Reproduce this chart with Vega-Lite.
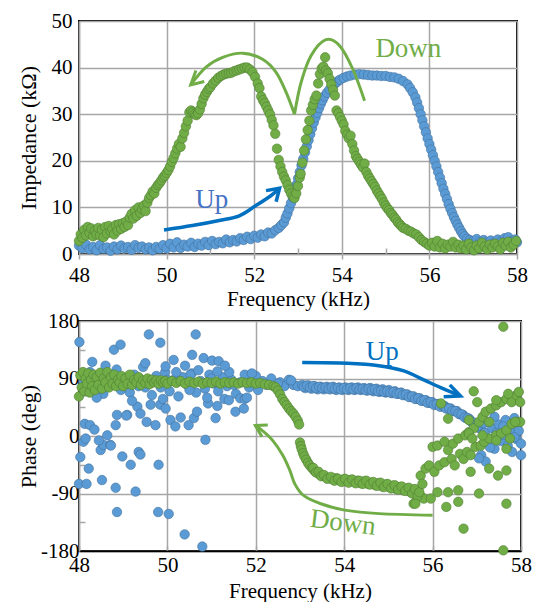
{
"$schema": "https://vega.github.io/schema/vega-lite/v6.json",
"background": "white",
"padding": {"left": 15, "top": 9, "right": 5, "bottom": 5},
"spacing": 67,
"bounds": "flush",
"config": {
  "font": "Liberation Serif",
  "view": {"stroke": "black", "strokeWidth": 2},
  "axis": {"labelFont": "Liberation Serif", "labelFontSize": 21, "labelColor": "black", "titleFont": "Liberation Serif", "titleFontSize": 22, "titleFontWeight": "normal", "titleColor": "black", "gridColor": "#A6A6A6", "gridWidth": 1.5, "tickColor": "#A6A6A6", "tickWidth": 1.5, "domainColor": "#A6A6A6", "domainWidth": 1.5, "labelFlush": false, "labelOverlap": false}
},
"datasets": {
"zu": [{"f":48.00,"v":1.8},{"f":48.08,"v":1.2},{"f":48.16,"v":2.0},{"f":48.24,"v":1.0},{"f":48.32,"v":1.5},{"f":48.40,"v":0.8},{"f":48.48,"v":1.9},{"f":48.56,"v":1.1},{"f":48.64,"v":1.4},{"f":48.72,"v":0.7},{"f":48.80,"v":1.6},{"f":48.88,"v":1.0},{"f":48.96,"v":1.8},{"f":49.04,"v":1.2},{"f":49.12,"v":1.5},{"f":49.20,"v":0.9},{"f":49.28,"v":1.9},{"f":49.36,"v":1.3},{"f":49.44,"v":1.6},{"f":49.52,"v":1.0},{"f":49.60,"v":1.4},{"f":49.68,"v":0.8},{"f":49.76,"v":1.5},{"f":49.84,"v":1.1},{"f":49.92,"v":1.9},{"f":50.00,"v":1.2},{"f":50.08,"v":2.2},{"f":50.16,"v":1.4},{"f":50.24,"v":2.5},{"f":50.32,"v":1.3},{"f":50.40,"v":2.0},{"f":50.48,"v":1.6},{"f":50.56,"v":2.4},{"f":50.64,"v":1.5},{"f":50.72,"v":2.2},{"f":50.80,"v":1.8},{"f":50.88,"v":2.6},{"f":50.96,"v":1.9},{"f":51.04,"v":2.8},{"f":51.12,"v":2.1},{"f":51.20,"v":2.6},{"f":51.28,"v":2.3},{"f":51.36,"v":3.1},{"f":51.44,"v":2.5},{"f":51.52,"v":3.0},{"f":51.60,"v":2.7},{"f":51.68,"v":3.4},{"f":51.76,"v":3.0},{"f":51.84,"v":3.7},{"f":51.92,"v":3.2},{"f":52.00,"v":3.9},{"f":52.08,"v":3.5},{"f":52.16,"v":4.2},{"f":52.24,"v":3.8},{"f":52.32,"v":4.6},{"f":52.40,"v":4.4},{"f":52.48,"v":5.1},{"f":52.56,"v":5.6},{"f":52.62,"v":6.2},{"f":52.68,"v":6.8},{"f":52.72,"v":7.8},{"f":52.76,"v":8.7},{"f":52.80,"v":9.8},{"f":52.84,"v":10.9},{"f":52.88,"v":12.2},{"f":52.92,"v":13.5},{"f":52.96,"v":14.8},{"f":53.00,"v":16.2},{"f":53.04,"v":17.6},{"f":53.08,"v":19.0},{"f":53.12,"v":20.4},{"f":53.16,"v":21.8},{"f":53.20,"v":23.1},{"f":53.24,"v":24.4},{"f":53.28,"v":25.7},{"f":53.32,"v":27.0},{"f":53.36,"v":28.2},{"f":53.40,"v":29.3},{"f":53.44,"v":30.3},{"f":53.48,"v":31.3},{"f":53.52,"v":32.2},{"f":53.56,"v":33.0},{"f":53.60,"v":33.8},{"f":53.66,"v":34.6},{"f":53.72,"v":35.3},{"f":53.78,"v":36.0},{"f":53.84,"v":36.5},{"f":53.90,"v":37.0},{"f":53.96,"v":37.4},{"f":54.04,"v":37.8},{"f":54.12,"v":38.1},{"f":54.20,"v":38.3},{"f":54.30,"v":38.5},{"f":54.40,"v":38.6},{"f":54.50,"v":38.5},{"f":54.60,"v":38.4},{"f":54.70,"v":38.3},{"f":54.80,"v":38.3},{"f":54.90,"v":38.2},{"f":55.00,"v":38.2},{"f":55.10,"v":38.0},{"f":55.20,"v":37.9},{"f":55.30,"v":37.6},{"f":55.40,"v":37.1},{"f":55.50,"v":36.4},{"f":55.56,"v":35.6},{"f":55.62,"v":34.7},{"f":55.68,"v":33.6},{"f":55.72,"v":32.5},{"f":55.76,"v":31.3},{"f":55.80,"v":30.0},{"f":55.84,"v":28.7},{"f":55.88,"v":27.4},{"f":55.92,"v":26.1},{"f":55.96,"v":24.8},{"f":56.00,"v":23.6},{"f":56.04,"v":22.4},{"f":56.08,"v":21.2},{"f":56.12,"v":20.0},{"f":56.16,"v":18.8},{"f":56.20,"v":17.6},{"f":56.24,"v":16.4},{"f":56.28,"v":15.2},{"f":56.32,"v":14.0},{"f":56.36,"v":12.9},{"f":56.40,"v":11.8},{"f":56.44,"v":10.7},{"f":56.48,"v":9.7},{"f":56.52,"v":8.8},{"f":56.56,"v":7.9},{"f":56.60,"v":7.1},{"f":56.64,"v":6.3},{"f":56.68,"v":5.6},{"f":56.72,"v":4.9},{"f":56.76,"v":4.3},{"f":56.80,"v":3.8},{"f":56.86,"v":3.3},{"f":56.92,"v":3.0},{"f":57.00,"v":2.8},{"f":57.08,"v":3.2},{"f":57.16,"v":2.6},{"f":57.24,"v":3.0},{"f":57.32,"v":2.5},{"f":57.40,"v":2.9},{"f":57.48,"v":2.4},{"f":57.56,"v":3.1},{"f":57.64,"v":2.7},{"f":57.72,"v":3.4},{"f":57.80,"v":3.6},{"f":57.88,"v":2.8},{"f":57.96,"v":3.1},{"f":58.00,"v":2.5}],
"zd": [{"f":48.00,"v":2.8},{"f":48.04,"v":4.2},{"f":48.08,"v":3.5},{"f":48.12,"v":5.2},{"f":48.16,"v":4.0},{"f":48.20,"v":5.8},{"f":48.24,"v":4.5},{"f":48.28,"v":5.5},{"f":48.32,"v":3.8},{"f":48.36,"v":5.0},{"f":48.40,"v":4.2},{"f":48.44,"v":5.6},{"f":48.48,"v":4.0},{"f":48.52,"v":5.2},{"f":48.56,"v":3.6},{"f":48.60,"v":5.8},{"f":48.64,"v":4.4},{"f":48.68,"v":6.0},{"f":48.72,"v":4.8},{"f":48.76,"v":5.4},{"f":48.80,"v":4.2},{"f":48.84,"v":6.2},{"f":48.88,"v":5.0},{"f":48.92,"v":6.4},{"f":48.96,"v":5.4},{"f":49.00,"v":6.6},{"f":49.04,"v":5.8},{"f":49.08,"v":7.0},{"f":49.12,"v":6.2},{"f":49.16,"v":7.8},{"f":49.20,"v":8.6},{"f":49.24,"v":7.6},{"f":49.28,"v":9.4},{"f":49.32,"v":8.2},{"f":49.36,"v":10.0},{"f":49.40,"v":8.8},{"f":49.44,"v":9.6},{"f":49.48,"v":10.4},{"f":49.52,"v":9.2},{"f":49.56,"v":11.0},{"f":49.60,"v":12.0},{"f":49.64,"v":12.6},{"f":49.68,"v":13.4},{"f":49.72,"v":13.0},{"f":49.76,"v":14.2},{"f":49.80,"v":14.8},{"f":49.84,"v":15.2},{"f":49.88,"v":15.8},{"f":49.92,"v":16.4},{"f":49.96,"v":16.8},{"f":50.00,"v":17.4},{"f":50.04,"v":18.0},{"f":50.08,"v":18.8},{"f":50.12,"v":19.8},{"f":50.16,"v":20.6},{"f":50.20,"v":21.6},{"f":50.24,"v":22.6},{"f":50.28,"v":23.6},{"f":50.32,"v":23.0},{"f":50.36,"v":24.8},{"f":50.40,"v":26.0},{"f":50.44,"v":27.4},{"f":50.48,"v":28.6},{"f":50.52,"v":30.4},{"f":50.56,"v":30.8},{"f":50.60,"v":30.4},{"f":50.64,"v":30.0},{"f":50.68,"v":29.8},{"f":50.72,"v":30.2},{"f":50.76,"v":31.0},{"f":50.80,"v":32.2},{"f":50.84,"v":33.4},{"f":50.88,"v":34.2},{"f":50.92,"v":34.8},{"f":50.96,"v":35.4},{"f":51.00,"v":35.8},{"f":51.06,"v":36.6},{"f":51.12,"v":37.2},{"f":51.18,"v":37.8},{"f":51.24,"v":38.2},{"f":51.30,"v":38.5},{"f":51.36,"v":38.7},{"f":51.42,"v":38.8},{"f":51.48,"v":38.9},{"f":51.54,"v":39.2},{"f":51.60,"v":39.4},{"f":51.66,"v":39.6},{"f":51.72,"v":39.8},{"f":51.78,"v":40.0},{"f":51.84,"v":40.0},{"f":51.90,"v":39.6},{"f":51.96,"v":39.0},{"f":52.02,"v":38.0},{"f":52.08,"v":36.6},{"f":52.12,"v":35.6},{"f":52.16,"v":33.8},{"f":52.20,"v":33.0},{"f":52.24,"v":32.4},{"f":52.28,"v":31.6},{"f":52.32,"v":30.8},{"f":52.36,"v":30.0},{"f":52.40,"v":28.8},{"f":52.44,"v":27.6},{"f":52.48,"v":25.8},{"f":52.52,"v":22.6},{"f":52.56,"v":20.2},{"f":52.60,"v":18.8},{"f":52.64,"v":17.6},{"f":52.68,"v":16.6},{"f":52.72,"v":15.8},{"f":52.76,"v":14.8},{"f":52.80,"v":13.8},{"f":52.84,"v":13.0},{"f":52.88,"v":12.4},{"f":52.92,"v":12.0},{"f":52.96,"v":13.0},{"f":53.00,"v":14.6},{"f":53.04,"v":16.4},{"f":53.06,"v":17.2},{"f":53.10,"v":19.6},{"f":53.14,"v":22.2},{"f":53.18,"v":24.6},{"f":53.22,"v":26.6},{"f":53.26,"v":28.6},{"f":53.30,"v":30.8},{"f":53.34,"v":32.0},{"f":53.38,"v":33.2},{"f":53.42,"v":34.0},{"f":53.46,"v":36.6},{"f":53.50,"v":38.6},{"f":53.54,"v":39.8},{"f":53.58,"v":40.2},{"f":53.62,"v":42.2},{"f":53.64,"v":39.4},{"f":53.68,"v":38.8},{"f":53.72,"v":37.6},{"f":53.76,"v":36.4},{"f":53.80,"v":35.2},{"f":53.84,"v":34.0},{"f":53.88,"v":30.8},{"f":53.92,"v":30.2},{"f":53.96,"v":29.4},{"f":54.00,"v":28.6},{"f":54.04,"v":27.8},{"f":54.08,"v":26.4},{"f":54.12,"v":25.6},{"f":54.16,"v":24.8},{"f":54.20,"v":25.4},{"f":54.24,"v":23.6},{"f":54.28,"v":22.2},{"f":54.32,"v":21.0},{"f":54.36,"v":20.4},{"f":54.40,"v":19.8},{"f":54.44,"v":19.2},{"f":54.48,"v":18.6},{"f":54.52,"v":19.4},{"f":54.56,"v":17.6},{"f":54.60,"v":16.8},{"f":54.64,"v":16.2},{"f":54.68,"v":15.6},{"f":54.72,"v":15.0},{"f":54.76,"v":14.4},{"f":54.80,"v":13.6},{"f":54.84,"v":13.0},{"f":54.88,"v":12.4},{"f":54.92,"v":11.8},{"f":54.96,"v":11.0},{"f":55.00,"v":10.4},{"f":55.04,"v":9.8},{"f":55.08,"v":9.4},{"f":55.12,"v":8.8},{"f":55.16,"v":8.4},{"f":55.20,"v":7.8},{"f":55.24,"v":7.4},{"f":55.28,"v":6.8},{"f":55.32,"v":6.4},{"f":55.36,"v":6.0},{"f":55.40,"v":5.6},{"f":55.46,"v":5.4},{"f":55.52,"v":5.0},{"f":55.58,"v":4.8},{"f":55.64,"v":4.4},{"f":55.70,"v":4.2},{"f":55.76,"v":3.6},{"f":55.82,"v":3.0},{"f":55.88,"v":2.6},{"f":55.94,"v":2.2},{"f":56.00,"v":1.8},{"f":56.06,"v":2.4},{"f":56.12,"v":1.6},{"f":56.18,"v":2.8},{"f":56.24,"v":1.4},{"f":56.30,"v":2.2},{"f":56.36,"v":1.2},{"f":56.42,"v":2.0},{"f":56.48,"v":1.6},{"f":56.54,"v":2.6},{"f":56.60,"v":1.4},{"f":56.66,"v":2.0},{"f":56.72,"v":1.2},{"f":56.78,"v":1.8},{"f":56.84,"v":1.0},{"f":56.90,"v":2.2},{"f":56.96,"v":1.4},{"f":57.02,"v":0.8},{"f":57.08,"v":1.8},{"f":57.14,"v":1.2},{"f":57.20,"v":2.4},{"f":57.26,"v":1.6},{"f":57.32,"v":1.0},{"f":57.38,"v":2.0},{"f":57.44,"v":1.4},{"f":57.50,"v":2.2},{"f":57.56,"v":1.6},{"f":57.62,"v":1.0},{"f":57.68,"v":2.4},{"f":57.74,"v":1.8},{"f":57.80,"v":2.6},{"f":57.86,"v":1.4},{"f":57.92,"v":2.0},{"f":57.98,"v":2.8}],
"pu": [{"f":48.05,"v":95},{"f":48.15,"v":70},{"f":48.25,"v":100},{"f":48.35,"v":75},{"f":48.45,"v":88},{"f":48.55,"v":66},{"f":48.65,"v":98},{"f":48.75,"v":80},{"f":48.85,"v":104},{"f":48.95,"v":72},{"f":49.05,"v":90},{"f":49.15,"v":68},{"f":49.25,"v":96},{"f":49.35,"v":78},{"f":49.45,"v":108},{"f":49.55,"v":84},{"f":49.65,"v":64},{"f":49.75,"v":94},{"f":49.85,"v":76},{"f":49.95,"v":100},{"f":50.05,"v":70},{"f":50.15,"v":88},{"f":50.25,"v":62},{"f":50.35,"v":92},{"f":50.45,"v":80},{"f":50.55,"v":98},{"f":50.65,"v":68},{"f":50.75,"v":86},{"f":50.85,"v":74},{"f":50.95,"v":96},{"f":51.05,"v":82},{"f":51.15,"v":70},{"f":51.25,"v":92},{"f":51.35,"v":78},{"f":51.45,"v":88},{"f":51.55,"v":66},{"f":51.65,"v":84},{"f":51.75,"v":96},{"f":51.85,"v":76},{"f":51.95,"v":90},{"f":52.05,"v":72},{"f":52.15,"v":86},{"f":52.25,"v":80},{"f":52.35,"v":90},{"f":52.45,"v":76},{"f":52.55,"v":84},{"f":52.65,"v":78},{"f":52.75,"v":88},{"f":52.85,"v":80},{"f":52.95,"v":78},{"f":48.10,"v":85},{"f":48.50,"v":90},{"f":49.00,"v":82},{"f":49.50,"v":76},{"f":50.00,"v":88},{"f":50.50,"v":72},{"f":51.00,"v":90},{"f":51.50,"v":80},{"f":52.00,"v":94},{"f":52.50,"v":82},{"f":53.05,"v":80},{"f":53.12,"v":75},{"f":53.19,"v":79},{"f":53.26,"v":74},{"f":53.33,"v":78},{"f":53.40,"v":73},{"f":53.47,"v":77},{"f":53.54,"v":73},{"f":53.61,"v":77},{"f":53.68,"v":73},{"f":53.75,"v":77},{"f":53.82,"v":72},{"f":53.89,"v":76},{"f":53.96,"v":72},{"f":54.03,"v":76},{"f":54.10,"v":72},{"f":54.17,"v":76},{"f":54.24,"v":72},{"f":54.31,"v":76},{"f":54.38,"v":72},{"f":54.45,"v":75},{"f":54.52,"v":71},{"f":54.59,"v":75},{"f":54.66,"v":70},{"f":54.73,"v":74},{"f":54.80,"v":69},{"f":54.87,"v":73},{"f":54.94,"v":68},{"f":55.01,"v":72},{"f":55.08,"v":67},{"f":55.15,"v":70},{"f":55.22,"v":66},{"f":55.29,"v":68},{"f":55.36,"v":64},{"f":55.43,"v":65},{"f":55.50,"v":61},{"f":55.57,"v":62},{"f":55.64,"v":58},{"f":55.71,"v":59},{"f":55.78,"v":55},{"f":55.85,"v":56},{"f":55.92,"v":52},{"f":55.99,"v":53},{"f":56.06,"v":49},{"f":56.13,"v":50},{"f":56.20,"v":46},{"f":56.27,"v":47},{"f":56.34,"v":43},{"f":56.41,"v":43},{"f":56.48,"v":39},{"f":56.55,"v":39},{"f":56.62,"v":34},{"f":56.69,"v":33},{"f":56.76,"v":28},{"f":56.83,"v":27},{"f":56.90,"v":21},{"f":56.97,"v":19},{"f":57.04,"v":13},{"f":57.11,"v":10},{"f":57.18,"v":5},{"f":53.085,"v":77},{"f":53.155,"v":79},{"f":53.225,"v":76},{"f":53.295,"v":78},{"f":53.365,"v":75},{"f":53.435,"v":77},{"f":53.505,"v":75},{"f":53.575,"v":76},{"f":53.645,"v":74},{"f":53.715,"v":76},{"f":53.785,"v":74},{"f":53.855,"v":75},{"f":53.925,"v":73},{"f":53.995,"v":75},{"f":54.065,"v":73},{"f":54.135,"v":75},{"f":54.205,"v":73},{"f":54.275,"v":75},{"f":54.345,"v":73},{"f":54.415,"v":74},{"f":54.485,"v":72},{"f":54.555,"v":74},{"f":54.625,"v":72},{"f":54.695,"v":73},{"f":54.765,"v":70},{"f":54.835,"v":71},{"f":54.905,"v":69},{"f":54.975,"v":70},{"f":55.045,"v":68},{"f":55.115,"v":69},{"f":55.185,"v":66},{"f":55.255,"v":67},{"f":55.325,"v":64},{"f":55.395,"v":65},{"f":55.465,"v":61},{"f":55.535,"v":62},{"f":55.605,"v":58},{"f":55.675,"v":59},{"f":55.745,"v":55},{"f":55.815,"v":56},{"f":55.885,"v":52},{"f":55.955,"v":53},{"f":56.025,"v":49},{"f":56.095,"v":50},{"f":56.165,"v":46},{"f":56.235,"v":47},{"f":56.305,"v":43},{"f":56.375,"v":43},{"f":56.445,"v":39},{"f":56.515,"v":39},{"f":56.585,"v":35},{"f":56.655,"v":34},{"f":56.725,"v":29},{"f":56.795,"v":28},{"f":56.865,"v":23},{"f":56.935,"v":21},{"f":57.005,"v":15},{"f":57.25,"v":22},{"f":57.30,"v":-5},{"f":57.35,"v":12},{"f":57.40,"v":-20},{"f":57.45,"v":5},{"f":57.50,"v":18},{"f":57.55,"v":-8},{"f":57.60,"v":2},{"f":57.65,"v":25},{"f":57.70,"v":-15},{"f":57.75,"v":10},{"f":57.80,"v":-25},{"f":57.85,"v":28},{"f":57.90,"v":-5},{"f":57.95,"v":8},{"f":58.00,"v":-12},{"f":58.00,"v":-30},{"f":57.10,"v":-30},{"f":57.20,"v":-40},{"f":57.30,"v":-18},{"f":57.05,"v":-35},{"f":57.40,"v":30},{"f":57.60,"v":15},{"f":57.85,"v":-2},{"f":57.15,"v":20},{"f":48.01,"v":147},{"f":48.03,"v":-33},{"f":48.00,"v":-75},{"f":48.17,"v":-75},{"f":48.22,"v":-51},{"f":48.10,"v":-9},{"f":48.15,"v":-4},{"f":48.13,"v":19},{"f":48.30,"v":116},{"f":48.25,"v":17},{"f":48.35,"v":10},{"f":48.49,"v":-22},{"f":48.55,"v":-14},{"f":48.52,"v":-69},{"f":48.64,"v":1},{"f":48.71,"v":-14},{"f":48.79,"v":135},{"f":48.83,"v":-81},{"f":48.86,"v":-119},{"f":48.94,"v":143},{"f":48.98,"v":-32},{"f":48.86,"v":33},{"f":48.83,"v":17},{"f":49.09,"v":33},{"f":49.17,"v":-45},{"f":49.28,"v":-87},{"f":49.32,"v":46},{"f":49.35,"v":-25},{"f":49.39,"v":-29},{"f":49.39,"v":35},{"f":49.50,"v":114},{"f":49.53,"v":22},{"f":49.58,"v":159},{"f":49.62,"v":49},{"f":49.73,"v":17},{"f":49.79,"v":-119},{"f":49.80,"v":-45},{"f":49.84,"v":146},{"f":49.84,"v":49},{"f":49.96,"v":43},{"f":49.96,"v":109},{"f":50.03,"v":-122},{"f":50.07,"v":25},{"f":50.14,"v":119},{"f":50.18,"v":15},{"f":50.20,"v":100},{"f":50.30,"v":29},{"f":50.39,"v":-154},{"f":50.48,"v":17},{"f":50.52,"v":96},{"f":50.56,"v":127},{"f":50.60,"v":28},{"f":50.64,"v":159},{"f":50.67,"v":38},{"f":50.70,"v":103},{"f":50.79,"v":-173},{"f":50.82,"v":122},{"f":50.86,"v":-6},{"f":50.92,"v":51},{"f":51.01,"v":118},{"f":51.09,"v":28},{"f":51.13,"v":47},{"f":51.13,"v":101},{"f":51.16,"v":117},{"f":51.29,"v":58},{"f":51.39,"v":56},{"f":51.40,"v":100},{"f":51.54,"v":38},{"f":51.65,"v":59},{"f":51.73,"v":43},{"f":51.75,"v":58},{"f":51.91,"v":98},{"f":52.80,"v":87},{"f":48.45,"v":-7},{"f":48.72,"v":-15},{"f":49.07,"v":32},{"f":48.40,"v":60},{"f":48.60,"v":110},{"f":49.20,"v":55},{"f":49.90,"v":58},{"f":50.40,"v":110},{"f":50.90,"v":60},{"f":51.30,"v":110},{"f":51.80,"v":60}],
"pd": [{"f":48.00,"v":62},{"f":48.03,"v":95},{"f":48.06,"v":76},{"f":48.09,"v":100},{"f":48.12,"v":70},{"f":48.15,"v":90},{"f":48.18,"v":82},{"f":48.21,"v":98},{"f":48.24,"v":68},{"f":48.27,"v":88},{"f":48.30,"v":78},{"f":48.33,"v":96},{"f":48.36,"v":72},{"f":48.40,"v":92},{"f":48.44,"v":80},{"f":48.48,"v":99},{"f":48.52,"v":74},{"f":48.56,"v":90},{"f":48.60,"v":84},{"f":48.64,"v":100},{"f":48.68,"v":76},{"f":48.72,"v":92},{"f":48.76,"v":82},{"f":48.80,"v":96},{"f":48.84,"v":78},{"f":48.88,"v":88},{"f":48.92,"v":84},{"f":48.96,"v":94},{"f":49.00,"v":78},{"f":49.05,"v":90},{"f":49.10,"v":82},{"f":49.15,"v":96},{"f":49.20,"v":80},{"f":49.25,"v":88},{"f":49.30,"v":84},{"f":49.35,"v":92},{"f":49.40,"v":80},{"f":49.45,"v":87},{"f":49.50,"v":83},{"f":49.55,"v":90},{"f":49.60,"v":81},{"f":49.65,"v":88},{"f":49.70,"v":84},{"f":49.75,"v":87},{"f":49.80,"v":82},{"f":49.85,"v":87},{"f":49.90,"v":84},{"f":49.95,"v":86},{"f":50.00,"v":82},{"f":50.10,"v":86},{"f":50.20,"v":83},{"f":50.30,"v":86},{"f":50.40,"v":82},{"f":50.50,"v":85},{"f":50.60,"v":83},{"f":50.70,"v":85},{"f":50.80,"v":82},{"f":50.90,"v":84},{"f":51.00,"v":83},{"f":51.10,"v":85},{"f":51.20,"v":82},{"f":51.30,"v":84},{"f":51.40,"v":83},{"f":51.50,"v":84},{"f":51.60,"v":82},{"f":51.70,"v":84},{"f":51.80,"v":83},{"f":51.90,"v":84},{"f":52.00,"v":82},{"f":52.10,"v":83},{"f":52.20,"v":81},{"f":52.30,"v":80},{"f":52.40,"v":78},{"f":52.45,"v":76},{"f":52.50,"v":71},{"f":52.55,"v":65},{"f":52.60,"v":58},{"f":52.65,"v":53},{"f":52.70,"v":48},{"f":52.75,"v":43},{"f":52.80,"v":39},{"f":52.85,"v":35},{"f":52.90,"v":30},{"f":52.95,"v":24},{"f":52.98,"v":18},{"f":53.00,"v":-10},{"f":53.02,"v":-16},{"f":53.04,"v":-21},{"f":53.07,"v":-27},{"f":53.10,"v":-32},{"f":53.14,"v":-37},{"f":53.18,"v":-42},{"f":53.22,"v":-46},{"f":53.27,"v":-50},{"f":53.32,"v":-54},{"f":53.38,"v":-57},{"f":53.44,"v":-60},{"f":53.50,"v":-62},{"f":53.58,"v":-64},{"f":53.66,"v":-66},{"f":53.74,"v":-68},{"f":53.82,"v":-66},{"f":53.90,"v":-70},{"f":53.98,"v":-68},{"f":54.06,"v":-71},{"f":54.14,"v":-69},{"f":54.22,"v":-72},{"f":54.30,"v":-70},{"f":54.38,"v":-74},{"f":54.46,"v":-71},{"f":54.54,"v":-75},{"f":54.62,"v":-73},{"f":54.70,"v":-77},{"f":54.78,"v":-74},{"f":54.86,"v":-79},{"f":54.94,"v":-76},{"f":55.02,"v":-80},{"f":55.10,"v":-78},{"f":55.18,"v":-83},{"f":55.26,"v":-80},{"f":55.34,"v":-85},{"f":55.42,"v":-82},{"f":55.50,"v":-88},{"f":55.56,"v":-84},{"f":55.62,"v":-92},{"f":55.68,"v":-86},{"f":55.74,"v":-95},{"f":55.57,"v":-106},{"f":55.80,"v":-98},{"f":53.30,"v":-50},{"f":53.36,"v":-57},{"f":53.42,"v":-56},{"f":53.48,"v":-63},{"f":53.54,"v":-61},{"f":53.62,"v":-67},{"f":53.70,"v":-64},{"f":53.78,"v":-70},{"f":53.86,"v":-67},{"f":53.94,"v":-72},{"f":54.02,"v":-67},{"f":54.10,"v":-73},{"f":54.18,"v":-68},{"f":54.26,"v":-74},{"f":54.34,"v":-70},{"f":54.42,"v":-75},{"f":54.50,"v":-70},{"f":54.58,"v":-76},{"f":54.66,"v":-72},{"f":54.74,"v":-78},{"f":54.82,"v":-73},{"f":54.90,"v":-80},{"f":54.98,"v":-75},{"f":55.06,"v":-82},{"f":55.14,"v":-77},{"f":55.22,"v":-84},{"f":55.30,"v":-79},{"f":55.38,"v":-86},{"f":55.46,"v":-81},{"f":55.54,"v":-90},{"f":55.60,"v":-83},{"f":55.66,"v":-94},{"f":55.70,"v":-88},{"f":55.73,"v":-62},{"f":55.84,"v":-51},{"f":55.92,"v":-46},{"f":56.04,"v":-56},{"f":56.15,"v":-46},{"f":56.27,"v":-41},{"f":56.43,"v":-36},{"f":56.50,"v":-46},{"f":56.62,"v":-28},{"f":56.70,"v":-36},{"f":56.78,"v":-25},{"f":56.86,"v":-30},{"f":56.97,"v":-17},{"f":57.09,"v":-15},{"f":57.17,"v":-9},{"f":57.28,"v":-4},{"f":57.44,"v":1},{"f":57.55,"v":4},{"f":57.67,"v":9},{"f":57.79,"v":19},{"f":57.90,"v":22},{"f":57.98,"v":22},{"f":56.00,"v":-17},{"f":56.11,"v":-15},{"f":56.27,"v":-9},{"f":56.35,"v":-22},{"f":56.46,"v":-12},{"f":56.58,"v":-4},{"f":56.74,"v":1},{"f":56.82,"v":6},{"f":56.93,"v":12},{"f":57.05,"v":22},{"f":57.13,"v":30},{"f":57.20,"v":38},{"f":57.32,"v":43},{"f":57.44,"v":48},{"f":57.55,"v":53},{"f":57.67,"v":58},{"f":57.79,"v":53},{"f":57.90,"v":64},{"f":57.98,"v":53},{"f":57.87,"v":22},{"f":57.95,"v":69},{"f":56.19,"v":51},{"f":56.35,"v":27},{"f":56.82,"v":25},{"f":56.93,"v":70},{"f":57.01,"v":53},{"f":57.28,"v":22},{"f":57.44,"v":56},{"f":57.71,"v":66},{"f":56.82,"v":4},{"f":56.90,"v":-4},{"f":57.13,"v":1},{"f":57.44,"v":-7},{"f":57.67,"v":-20},{"f":57.75,"v":-4},{"f":55.77,"v":-75},{"f":55.96,"v":-98},{"f":56.11,"v":-88},{"f":56.35,"v":-88},{"f":56.31,"v":-111},{"f":56.58,"v":-103},{"f":56.70,"v":-145},{"f":56.58,"v":-85},{"f":57.05,"v":-90},{"f":56.86,"v":-56},{"f":57.28,"v":-51},{"f":57.48,"v":-62},{"f":57.67,"v":-54},{"f":57.67,"v":-106},{"f":57.60,"v":-179},{"f":57.60,"v":171},{"f":55.61,"v":-106}],
"ta": [{"p":"tg1","i":0,"f":52.92,"v":30.0},{"p":"tg1","i":1,"f":52.73,"v":34.7},{"p":"tg1","i":2,"f":52.50,"v":39.0},{"p":"tg1","i":3,"f":52.19,"v":41.8},{"p":"tg1","i":4,"f":51.74,"v":43.1},{"p":"tg1","i":5,"f":51.28,"v":42.2},{"p":"tg1","i":6,"f":50.90,"v":40.1},{"p":"tg1","i":7,"f":50.55,"v":36.3},{"p":"tg2","i":0,"f":52.92,"v":30.0},{"p":"tg2","i":1,"f":53.07,"v":36.8},{"p":"tg2","i":2,"f":53.30,"v":42.6},{"p":"tg2","i":3,"f":53.64,"v":46.0},{"p":"tg2","i":4,"f":53.95,"v":44.7},{"p":"tg2","i":5,"f":54.25,"v":39.7},{"p":"tg2","i":6,"f":54.52,"v":32.9},{"p":"tgh","i":0,"f":50.67,"v":39.4},{"p":"tgh","i":1,"f":50.55,"v":36.3},{"p":"tgh","i":2,"f":50.86,"v":37.0},{"p":"tb1","i":0,"f":49.94,"v":5.15},{"p":"tb1","i":1,"f":50.59,"v":6.1},{"p":"tb1","i":2,"f":51.20,"v":7.2},{"p":"tb1","i":3,"f":51.66,"v":8.2},{"p":"tb1","i":4,"f":52.04,"v":10.4},{"p":"tb1","i":5,"f":52.38,"v":12.5},{"p":"tb1","i":6,"f":52.58,"v":14.1},{"p":"tbh","i":0,"f":52.27,"v":13.6},{"p":"tbh","i":1,"f":52.58,"v":14.1},{"p":"tbh","i":2,"f":52.50,"v":11.2}],
"ba": [{"p":"bb1","i":0,"f":53.05,"v":114.9},{"p":"bb1","i":1,"f":54.07,"v":113.8},{"p":"bb1","i":2,"f":54.82,"v":109.7},{"p":"bb1","i":3,"f":55.35,"v":101.9},{"p":"bb1","i":4,"f":55.80,"v":87.8},{"p":"bb1","i":5,"f":56.25,"v":73.7},{"p":"bb1","i":6,"f":56.63,"v":62.7},{"p":"bbh","i":0,"f":56.39,"v":80},{"p":"bbh","i":1,"f":56.63,"v":62.7},{"p":"bbh","i":2,"f":56.25,"v":61.6},{"p":"bg1","i":0,"f":56.0,"v":-124},{"p":"bg1","i":1,"f":54.79,"v":-121.5},{"p":"bg1","i":2,"f":54.01,"v":-116},{"p":"bg1","i":3,"f":53.47,"v":-106},{"p":"bg1","i":4,"f":53.08,"v":-93},{"p":"bg1","i":5,"f":52.88,"v":-74.6},{"p":"bg1","i":6,"f":52.77,"v":-53.7},{"p":"bg1","i":7,"f":52.61,"v":-30},{"p":"bg1","i":8,"f":52.38,"v":-6.8},{"p":"bg1","i":9,"f":52.14,"v":8.9},{"p":"bg1","i":10,"f":51.99,"v":16.4},{"p":"bgh","i":0,"f":52.27,"v":17.2},{"p":"bgh","i":1,"f":51.99,"v":16.4},{"p":"bgh","i":2,"f":52.14,"v":-1.1}],
"tt": [{"p":"up","f":51.03,"v":9.8,"t":"Up"},{"p":"down","f":55.52,"v":42.3,"t":"Down"}],
"bt": [{"p":"up","f":54.86,"v":119,"t":"Up"},{"p":"down","f":53.97,"v":-136,"t":"Down"}],
"mx": [{"f":49},{"f":51},{"f":53},{"f":55},{"f":57}]
},
"vconcat": [
{
  "width": 438, "height": 233,
  "encoding": {
    "x": {"field": "f", "type": "quantitative", "scale": {"domain": [48, 58], "nice": false, "zero": false},
      "axis": {"title": "Frequency (kHz)", "values": [48,49,50,51,52,53,54,55,56,57,58],
        "labelExpr": "datum.value % 2 == 0 ? '' + datum.value : ''",
        "gridOpacity": {"condition": {"test": "datum.value % 2 == 1", "value": 0}, "value": 1},
        "tickSize": {"condition": {"test": "datum.value % 2 == 1", "value": -6}, "value": 5},
        "labelPadding": 5, "titleFontSize": 21, "titleY": 51, "titleBaseline": "alphabetic"}},
    "y": {"field": "v", "type": "quantitative", "scale": {"domain": [0, 50], "nice": false},
      "axis": {"title": "Impedance (kΩ)", "values": [0,10,20,30,40,50], "ticks": false, "labelPadding": 7, "titleX": -51, "titleBaseline": "middle"}}
  },
  "layer": [
    {"data": {"name": "zu"}, "mark": {"type": "circle", "size": 90, "fill": "#5B9BD5", "stroke": "#41719C", "strokeWidth": 0.6, "opacity": 1}},
    {"data": {"name": "zd"}, "mark": {"type": "circle", "size": 90, "fill": "#70AD47", "stroke": "#507E32", "strokeWidth": 0.6, "opacity": 1}},
    {"data": {"name": "ta"}, "transform": [{"filter": {"field": "p", "oneOf": ["tg1", "tg2"]}}], "mark": {"type": "line", "interpolate": "cardinal", "color": "#70AD47", "strokeWidth": 3}, "encoding": {"detail": {"field": "p"}, "order": {"field": "i", "type": "quantitative"}}},
    {"data": {"name": "ta"}, "transform": [{"filter": {"field": "p", "equal": "tgh"}}], "mark": {"type": "line", "color": "#70AD47", "strokeWidth": 3}, "encoding": {"order": {"field": "i", "type": "quantitative"}}},
    {"data": {"name": "ta"}, "transform": [{"filter": {"field": "p", "equal": "tb1"}}], "mark": {"type": "line", "interpolate": "cardinal", "color": "#0070C0", "strokeWidth": 3.5}, "encoding": {"order": {"field": "i", "type": "quantitative"}}},
    {"data": {"name": "ta"}, "transform": [{"filter": {"field": "p", "equal": "tbh"}}], "mark": {"type": "line", "color": "#0070C0", "strokeWidth": 3.5}, "encoding": {"order": {"field": "i", "type": "quantitative"}}},
    {"data": {"name": "tt"}, "transform": [{"filter": {"field": "p", "equal": "up"}}], "mark": {"type": "text", "font": "Liberation Serif", "fontSize": 27, "color": "#4472C4", "align": "center", "baseline": "alphabetic"}, "encoding": {"text": {"field": "t"}}},
    {"data": {"name": "tt"}, "transform": [{"filter": {"field": "p", "equal": "down"}}], "mark": {"type": "text", "font": "Liberation Serif", "fontSize": 27, "color": "#70AD47", "align": "center", "baseline": "alphabetic"}, "encoding": {"text": {"field": "t"}}}
  ]
},
{
  "width": 442, "height": 230,
  "encoding": {
    "x": {"field": "f", "type": "quantitative", "scale": {"domain": [48, 58], "nice": false, "zero": false},
      "axis": {"title": "Frequency (kHz)", "values": [48,49,50,51,52,53,54,55,56,57,58],
        "labelExpr": "datum.value % 2 == 0 ? '' + datum.value : ''",
        "gridOpacity": {"condition": {"test": "datum.value % 2 == 1", "value": 0}, "value": 1},
        "tickSize": -5,
        "tickOpacity": {"condition": {"test": "datum.value % 2 == 1", "value": 0}, "value": 1},
        "domainColor": "black", "labelPadding": 8, "titleFontSize": 21, "titleY": 46, "titleBaseline": "alphabetic"}},
    "y": {"field": "v", "type": "quantitative", "scale": {"domain": [-180, 180], "nice": false},
      "axis": {"title": "Phase (deg)", "values": [-180,-135,-90,-45,0,45,90,135,180],
        "labelExpr": "datum.value % 90 == 0 ? '' + datum.value : ''",
        "gridOpacity": {"condition": {"test": "datum.value % 90 != 0", "value": 0}, "value": 1},
        "tickSize": -6,
        "tickOpacity": {"condition": {"test": "datum.value % 90 != 0", "value": 1}, "value": 0},
        "labelPadding": 6, "titleX": -51, "titleBaseline": "middle"}}
  },
  "layer": [
    {"data": {"name": "mx"}, "mark": {"type": "rule", "color": "#A6A6A6", "strokeWidth": 1.5}, "encoding": {"y": {"datum": -8}, "y2": {"datum": 8}}},
    {"data": {"name": "pu"}, "mark": {"type": "circle", "size": 90, "fill": "#5B9BD5", "stroke": "#41719C", "strokeWidth": 0.6, "opacity": 1}},
    {"data": {"name": "pd"}, "mark": {"type": "circle", "size": 90, "fill": "#70AD47", "stroke": "#507E32", "strokeWidth": 0.6, "opacity": 1}},
    {"data": {"name": "ba"}, "transform": [{"filter": {"field": "p", "equal": "bb1"}}], "mark": {"type": "line", "interpolate": "cardinal", "color": "#0070C0", "strokeWidth": 3.5}, "encoding": {"order": {"field": "i", "type": "quantitative"}}},
    {"data": {"name": "ba"}, "transform": [{"filter": {"field": "p", "equal": "bbh"}}], "mark": {"type": "line", "color": "#0070C0", "strokeWidth": 3.5}, "encoding": {"order": {"field": "i", "type": "quantitative"}}},
    {"data": {"name": "ba"}, "transform": [{"filter": {"field": "p", "equal": "bg1"}}], "mark": {"type": "line", "interpolate": "cardinal", "color": "#70AD47", "strokeWidth": 3}, "encoding": {"order": {"field": "i", "type": "quantitative"}}},
    {"data": {"name": "ba"}, "transform": [{"filter": {"field": "p", "equal": "bgh"}}], "mark": {"type": "line", "color": "#70AD47", "strokeWidth": 3}, "encoding": {"order": {"field": "i", "type": "quantitative"}}},
    {"data": {"name": "bt"}, "transform": [{"filter": {"field": "p", "equal": "up"}}], "mark": {"type": "text", "font": "Liberation Serif", "fontSize": 27, "color": "#0070C0", "align": "center", "baseline": "alphabetic"}, "encoding": {"text": {"field": "t"}}},
    {"data": {"name": "bt"}, "transform": [{"filter": {"field": "p", "equal": "down"}}], "mark": {"type": "text", "font": "Liberation Serif", "fontSize": 27, "color": "#70AD47", "align": "center", "baseline": "middle", "angle": 7}, "encoding": {"text": {"field": "t"}}}
  ]
}
]
}
